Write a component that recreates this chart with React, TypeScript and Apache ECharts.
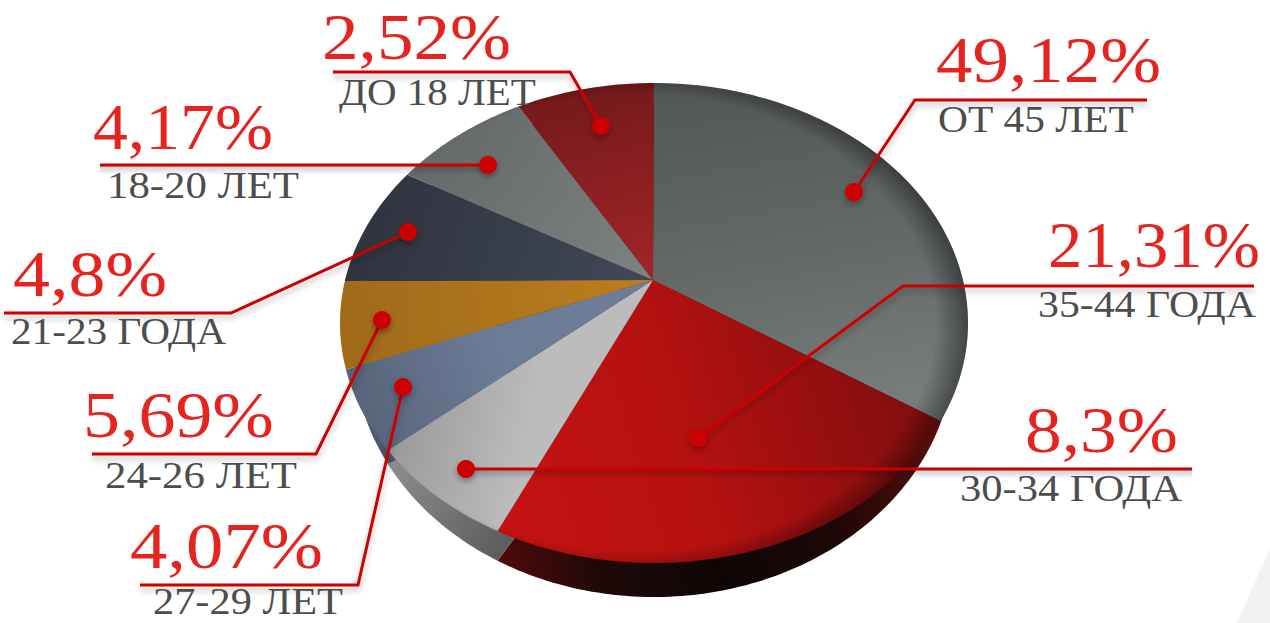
import React, { useEffect, useRef } from "react";
import * as echarts from "echarts";

// Age groups and shares as printed on the chart
const ageGroups = ["ОТ 45 ЛЕТ", "35-44 ГОДА", "30-34 ГОДА", "27-29 ЛЕТ", "24-26 ЛЕТ", "21-23 ГОДА", "18-20 ЛЕТ", "ДО 18 ЛЕТ"];
const printedPercents = [49.12, 21.31, 8.3, 4.07, 5.69, 4.8, 4.17, 2.52];
// Share of the rim each slice actually occupies in the picture (it differs from the printed figures)
const drawnShares = [31.7, 26.6, 7.8, 5.8, 5.9, 7.8, 7.3, 7.1];

const W = 1270;
const H = 623;
const APEX = { x: 653, y: 280 };
const TOP = { cx: 654, cy: 323, rx: 314, ry: 240 };
const BODY = { cx: 654, cy: 350, rx: 300, ry: 247 };
const RED_TEXT = "#e5231f";
const GREY_TEXT = "#4d4d4d";
const LINE = "#cc0000";
const SERIF = '"Liberation Serif", serif';

const G = (x0: number, y0: number, x1: number, y1: number, stops: [number, string][]) =>
  new echarts.graphic.LinearGradient(x0, y0, x1, y1, stops.map(([offset, color]) => ({ offset, color })), true);

const faceFills = [
  G(700, 83, 760, 420, [[0, "#525654"], [0.55, "#646967"], [1, "#777d7b"]]),
  G(510, 540, 940, 400, [[0, "#c41312"], [0.45, "#b41110"], [1, "#7c0e0e"]]),
  G(390, 450, 520, 480, [[0, "#9a9a9a"], [1, "#bcbcbc"]]),
  G(350, 400, 640, 300, [[0, "#56647a"], [0.5, "#6d7c96"], [1, "#6f7e98"]]),
  G(342, 320, 640, 290, [[0, "#a06a1a"], [1, "#bb7e1d"]]),
  G(360, 190, 640, 290, [[0, "#2f333e"], [1, "#414757"]]),
  G(430, 130, 640, 280, [[0, "#646967"], [1, "#7c8280"]]),
  G(600, 90, 640, 270, [[0, "#761a1a"], [1, "#a02428"]]),
];
const wallFills = [
  "#3a3a38",
  G(498, 560, 945, 430, [[0, "#520a0a"], [0.2, "#1e0908"], [0.45, "#0e0606"], [0.72, "#1e0807"], [1, "#5c0e0e"]]),
  G(390, 470, 505, 540, [[0, "#8c8c8c"], [1, "#5e5e5e"]]),
  G(350, 380, 392, 455, [[0, "#55637a"], [1, "#465368"]]),
  G(340, 320, 350, 375, [[0, "#8a5a14"], [1, "#7a5012"]]),
  "#2a2d37",
  "#555958",
  "#5c1414",
];

// Label layout: [percent x0, x1, baseline, age x0, x1, baseline]
const textBoxes = [
  [936, 1161, 84, 938, 1134, 133],
  [1048, 1260, 269, 1038, 1256, 318],
  [1025, 1178, 454, 960, 1182, 502],
  [130, 323, 570, 153, 343, 616],
  [83, 274, 439, 105, 297, 489],
  [13, 167, 298, 11, 226, 345],
  [93, 273, 152, 107, 299, 199],
  [322, 511, 61, 339, 536, 106],
];
// Leader paths: first point is the dot
const leaders = [
  [[854, 192], [915, 100], [1147, 100]],
  [[698, 438], [903, 286], [1254, 286]],
  [[466, 469], [1192, 469]],
  [[403, 387], [358, 585], [140, 585]],
  [[382, 320], [316, 454], [92, 454]],
  [[408, 232], [231, 313], [4, 313]],
  [[488, 165], [100, 165]],
  [[601, 126], [570, 72], [333, 72]],
];

const PCT_SIZE = 66;
const AGE_SIZE = 37;
const BASELINE_DROP = 0.87; // distance from a text's y to its baseline, in em

function fitScale(text: string, size: number, target: number): number {
  const ctx = document.createElement("canvas").getContext("2d");
  if (!ctx) return 1;
  ctx.font = `${size}px ${SERIF}`;
  return target / ctx.measureText(text).width;
}

function wedge(center: { x: number; y: number }, e: typeof TOP, a0: number, a1: number): number[][] {
  const pts: number[][] = [[center.x, center.y]];
  const n = Math.max(8, Math.ceil((a1 - a0) / 0.02));
  for (let i = 0; i <= n; i++) {
    const t = a0 + ((a1 - a0) * i) / n;
    pts.push([e.cx + e.rx * Math.sin(t), e.cy - e.ry * Math.cos(t)]);
  }
  return pts;
}

const total = drawnShares.reduce((a, b) => a + b, 0);
function sliceAngles(index: number): [number, number] {
  let before = 0;
  for (let i = 0; i < index; i++) before += drawnShares[i];
  const k = (Math.PI * 2) / total;
  return [before * k, (before + drawnShares[index]) * k];
}

// Where a face boundary drops onto the lower outline: same x, on the smaller lower ellipse
function wallAngle(a: number): number {
  if (Math.cos(a) >= 0) return a;
  const s = Math.max(-1, Math.min(1, (TOP.rx * Math.sin(a)) / BODY.rx));
  return Math.PI - Math.asin(s);
}

export default function App() {
  const ref = useRef<HTMLDivElement>(null);
  useEffect(() => {
    if (!ref.current) return;
    document.body.style.margin = "0";
    document.body.style.overflow = "hidden";
    const chart = echarts.init(ref.current, undefined, { renderer: "svg", width: W, height: H });

    const graphics: any[] = [
      {
        type: "polygon",
        silent: true,
        z: 0,
        shape: { points: [[1237, 623], [1270, 548], [1270, 623]] },
        style: { fill: "#f2f2f2" },
      },
    ];
    leaders.forEach((pts) => {
      const flat = pts.length === 2;
      if (flat) {
        // A shadow filter cannot draw on a zero-height line, so its soft shadow is a thin gradient strip
        const x0 = Math.min(pts[0][0], pts[1][0]);
        const x1 = Math.max(pts[0][0], pts[1][0]);
        const y = pts[0][1];
        graphics.push({
          type: "rect",
          z: 99,
          shape: { x: x0, y: y + 1, width: x1 - x0, height: 9 },
          style: {
            fill: new echarts.graphic.LinearGradient(0, 0, 0, 1, [
              { offset: 0, color: "rgba(0,0,0,0.2)" },
              { offset: 1, color: "rgba(0,0,0,0)" },
            ]),
          },
        });
      }
      graphics.push({
        type: "polyline",
        z: 100,
        shape: { points: pts },
        style: flat
          ? { stroke: LINE, lineWidth: 3, fill: "none" }
          : {
              stroke: LINE,
              lineWidth: 3,
              fill: "none",
              shadowColor: "rgba(0,0,0,0.28)",
              shadowBlur: 6,
              shadowOffsetY: 4,
            },
      });
      graphics.push({
        type: "circle",
        z: 101,
        shape: { cx: pts[0][0], cy: pts[0][1], r: 9 },
        style: { fill: LINE, shadowColor: "rgba(0,0,0,0.35)", shadowBlur: 6, shadowOffsetY: 3 },
      });
    });
    ageGroups.forEach((age, i) => {
      const b = textBoxes[i];
      const pct = `${String(printedPercents[i]).replace(".", ",")}%`;
      graphics.push({
        type: "text",
        z: 102,
        x: b[0],
        y: b[2] - BASELINE_DROP * PCT_SIZE,
        scaleX: fitScale(pct, PCT_SIZE, b[1] - b[0]),
        style: { text: pct, fill: RED_TEXT, font: `${PCT_SIZE}px ${SERIF}`, align: "left", verticalAlign: "top" },
      });
      graphics.push({
        type: "text",
        z: 102,
        x: b[3],
        y: b[5] - BASELINE_DROP * AGE_SIZE,
        scaleX: fitScale(age, AGE_SIZE, b[4] - b[3]),
        style: { text: age, fill: GREY_TEXT, font: `${AGE_SIZE}px ${SERIF}`, align: "left", verticalAlign: "top" },
      });
    });

    chart.setOption({
      animation: false,
      backgroundColor: "#ffffff",
      tooltip: { show: false },
      graphic: { elements: graphics },
      series: [
        {
          type: "custom",
          name: "walls",
          coordinateSystem: "none",
          z: 2,
          silent: true,
          data: drawnShares,
          renderItem: (params: any) => {
            const [a0, a1] = sliceAngles(params.dataIndex);
            return {
              type: "polygon",
              shape: { points: wedge({ x: BODY.cx, y: BODY.cy }, BODY, wallAngle(a0), wallAngle(a1)) },
              style: { fill: wallFills[params.dataIndex] },
            };
          },
        },
        {
          type: "custom",
          name: "faces",
          coordinateSystem: "none",
          z: 3,
          silent: true,
          data: drawnShares,
          renderItem: (params: any) => {
            const [a0, a1] = sliceAngles(params.dataIndex);
            return {
              type: "polygon",
              shape: { points: wedge(APEX, TOP, a0, a1) },
              style: { fill: faceFills[params.dataIndex] },
            };
          },
        },
        {
          type: "custom",
          name: "rim",
          coordinateSystem: "none",
          z: 4,
          silent: true,
          data: [1],
          renderItem: () => ({
            type: "ellipse",
            shape: { cx: TOP.cx, cy: TOP.cy, rx: TOP.rx, ry: TOP.ry },
            style: {
              fill: new echarts.graphic.RadialGradient(0.47, 0.5, 0.53, [
                { offset: 0, color: "rgba(0,0,0,0)" },
                { offset: 0.9, color: "rgba(0,0,0,0)" },
                { offset: 1, color: "rgba(0,0,0,0.42)" },
              ]),
            },
          }),
        },
      ],
    });
    return () => chart.dispose();
  }, []);

  return <div ref={ref} style={{ width: W, height: H, overflow: "hidden", background: "#fff" }} />;
}
